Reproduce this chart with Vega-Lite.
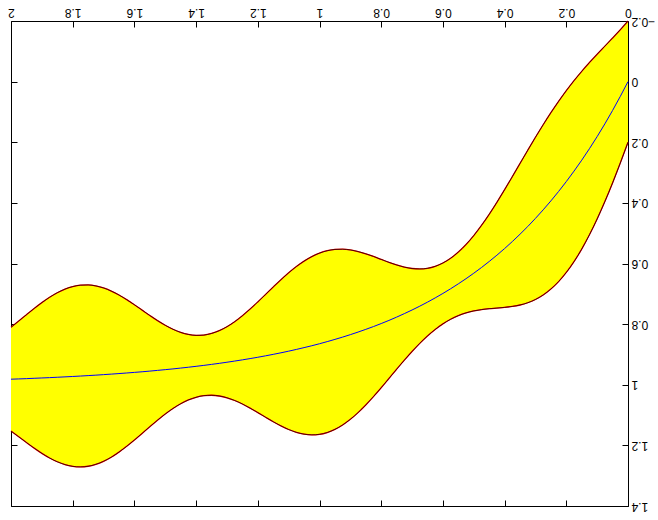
{
  "$schema": "https://vega.github.io/schema/vega-lite/v6.json",
  "width": 617,
  "height": 485,
  "autosize": {"type": "none"},
  "padding": {"left": 11, "top": 21, "right": 30, "bottom": 14},
  "background": "white",
  "config": {
    "view": {"stroke": null},
    "axis": {
      "grid": false,
      "labelFont": "Liberation Sans",
      "labelFontSize": 12,
      "labelColor": "black",
      "tickColor": "black",
      "tickSize": -6,
      "tickWidth": 1,
      "domainColor": "black",
      "domainWidth": 1,
      "labelFlush": false,
      "labelOverlap": false,
      "labelBound": false,
      "title": null
    }
  },
  "data": {"values": [
    {"x": 0, "c": 0, "lo": -0.2, "hi": 0.2},
    {"x": 0.025, "c": 0.0488, "lo": -0.1711, "hi": 0.2686},
    {"x": 0.05, "c": 0.0952, "lo": -0.1438, "hi": 0.3341},
    {"x": 0.075, "c": 0.1393, "lo": -0.1172, "hi": 0.3958},
    {"x": 0.1, "c": 0.1813, "lo": -0.0905, "hi": 0.4530},
    {"x": 0.125, "c": 0.2212, "lo": -0.0629, "hi": 0.5053},
    {"x": 0.15, "c": 0.2592, "lo": -0.0340, "hi": 0.5524},
    {"x": 0.175, "c": 0.2953, "lo": -0.0032, "hi": 0.5939},
    {"x": 0.2, "c": 0.3297, "lo": 0.0297, "hi": 0.6296},
    {"x": 0.225, "c": 0.3624, "lo": 0.0650, "hi": 0.6598},
    {"x": 0.25, "c": 0.3935, "lo": 0.1025, "hi": 0.6844},
    {"x": 0.275, "c": 0.4230, "lo": 0.1422, "hi": 0.7039},
    {"x": 0.3, "c": 0.4512, "lo": 0.1836, "hi": 0.7187},
    {"x": 0.325, "c": 0.4780, "lo": 0.2264, "hi": 0.7295},
    {"x": 0.35, "c": 0.5034, "lo": 0.2699, "hi": 0.7369},
    {"x": 0.375, "c": 0.5276, "lo": 0.3135, "hi": 0.7417},
    {"x": 0.4, "c": 0.5507, "lo": 0.3565, "hi": 0.7448},
    {"x": 0.425, "c": 0.5726, "lo": 0.3981, "hi": 0.7470},
    {"x": 0.45, "c": 0.5934, "lo": 0.4377, "hi": 0.7492},
    {"x": 0.475, "c": 0.6133, "lo": 0.4744, "hi": 0.7521},
    {"x": 0.5, "c": 0.6321, "lo": 0.5078, "hi": 0.7564},
    {"x": 0.525, "c": 0.6501, "lo": 0.5372, "hi": 0.7629},
    {"x": 0.55, "c": 0.6671, "lo": 0.5623, "hi": 0.7720},
    {"x": 0.575, "c": 0.6834, "lo": 0.5827, "hi": 0.7840},
    {"x": 0.6, "c": 0.6988, "lo": 0.5984, "hi": 0.7992},
    {"x": 0.625, "c": 0.7135, "lo": 0.6094, "hi": 0.8176},
    {"x": 0.65, "c": 0.7275, "lo": 0.6158, "hi": 0.8391},
    {"x": 0.675, "c": 0.7408, "lo": 0.6180, "hi": 0.8635},
    {"x": 0.7, "c": 0.7534, "lo": 0.6165, "hi": 0.8903},
    {"x": 0.725, "c": 0.7654, "lo": 0.6119, "hi": 0.9190},
    {"x": 0.75, "c": 0.7769, "lo": 0.6048, "hi": 0.9489},
    {"x": 0.775, "c": 0.7878, "lo": 0.5961, "hi": 0.9794},
    {"x": 0.8, "c": 0.7981, "lo": 0.5865, "hi": 1.0098},
    {"x": 0.825, "c": 0.8080, "lo": 0.5768, "hi": 1.0391},
    {"x": 0.85, "c": 0.8173, "lo": 0.5679, "hi": 1.0667},
    {"x": 0.875, "c": 0.8262, "lo": 0.5605, "hi": 1.0919},
    {"x": 0.9, "c": 0.8347, "lo": 0.5553, "hi": 1.1141},
    {"x": 0.925, "c": 0.8428, "lo": 0.5529, "hi": 1.1326},
    {"x": 0.95, "c": 0.8504, "lo": 0.5536, "hi": 1.1472},
    {"x": 0.975, "c": 0.8577, "lo": 0.5579, "hi": 1.1576},
    {"x": 1.0, "c": 0.8647, "lo": 0.5657, "hi": 1.1636},
    {"x": 1.025, "c": 0.8713, "lo": 0.5772, "hi": 1.1653},
    {"x": 1.05, "c": 0.8775, "lo": 0.5921, "hi": 1.1630},
    {"x": 1.075, "c": 0.8835, "lo": 0.6101, "hi": 1.1570},
    {"x": 1.1, "c": 0.8892, "lo": 0.6307, "hi": 1.1477},
    {"x": 1.125, "c": 0.8946, "lo": 0.6534, "hi": 1.1358},
    {"x": 1.15, "c": 0.8997, "lo": 0.6775, "hi": 1.1220},
    {"x": 1.175, "c": 0.9046, "lo": 0.7022, "hi": 1.1071},
    {"x": 1.2, "c": 0.9093, "lo": 0.7267, "hi": 1.0918},
    {"x": 1.225, "c": 0.9137, "lo": 0.7504, "hi": 1.0771},
    {"x": 1.25, "c": 0.9179, "lo": 0.7723, "hi": 1.0635},
    {"x": 1.275, "c": 0.9219, "lo": 0.7919, "hi": 1.0519},
    {"x": 1.3, "c": 0.9257, "lo": 0.8085, "hi": 1.0429},
    {"x": 1.325, "c": 0.9294, "lo": 0.8216, "hi": 1.0371},
    {"x": 1.35, "c": 0.9328, "lo": 0.8309, "hi": 1.0347},
    {"x": 1.375, "c": 0.9361, "lo": 0.8361, "hi": 1.0361},
    {"x": 1.4, "c": 0.9392, "lo": 0.8371, "hi": 1.0413},
    {"x": 1.425, "c": 0.9422, "lo": 0.8341, "hi": 1.0502},
    {"x": 1.45, "c": 0.9450, "lo": 0.8273, "hi": 1.0627},
    {"x": 1.475, "c": 0.9477, "lo": 0.8170, "hi": 1.0783},
    {"x": 1.5, "c": 0.9502, "lo": 0.8039, "hi": 1.0966},
    {"x": 1.525, "c": 0.9526, "lo": 0.7885, "hi": 1.1168},
    {"x": 1.55, "c": 0.9550, "lo": 0.7715, "hi": 1.1384},
    {"x": 1.575, "c": 0.9572, "lo": 0.7538, "hi": 1.1605},
    {"x": 1.6, "c": 0.9592, "lo": 0.7361, "hi": 1.1824},
    {"x": 1.625, "c": 0.9612, "lo": 0.7192, "hi": 1.2032},
    {"x": 1.65, "c": 0.9631, "lo": 0.7039, "hi": 1.2223},
    {"x": 1.675, "c": 0.9649, "lo": 0.6909, "hi": 1.2390},
    {"x": 1.7, "c": 0.9666, "lo": 0.6807, "hi": 1.2525},
    {"x": 1.725, "c": 0.9683, "lo": 0.6740, "hi": 1.2625},
    {"x": 1.75, "c": 0.9698, "lo": 0.6707, "hi": 1.2689},
    {"x": 1.775, "c": 0.9713, "lo": 0.6715, "hi": 1.2711},
    {"x": 1.8, "c": 0.9727, "lo": 0.6761, "hi": 1.2692},
    {"x": 1.825, "c": 0.9740, "lo": 0.6845, "hi": 1.2635},
    {"x": 1.85, "c": 0.9753, "lo": 0.6964, "hi": 1.2541},
    {"x": 1.875, "c": 0.9765, "lo": 0.7115, "hi": 1.2415},
    {"x": 1.9, "c": 0.9776, "lo": 0.7290, "hi": 1.2263},
    {"x": 1.925, "c": 0.9787, "lo": 0.7484, "hi": 1.2090},
    {"x": 1.95, "c": 0.9798, "lo": 0.7690, "hi": 1.1905},
    {"x": 1.975, "c": 0.9808, "lo": 0.7899, "hi": 1.1716},
    {"x": 2.0, "c": 0.9817, "lo": 0.8105, "hi": 1.1529}
  ]},
  "layer": [
    {
      "mark": {"type": "area", "color": "#ffff00", "interpolate": "monotone"},
      "encoding": {
        "x": {"field": "x", "type": "quantitative", "scale": {"domain": [0, 2], "reverse": true, "nice": false},
              "axis": {"orient": "top", "values": [0, 0.2, 0.4, 0.6, 0.8, 1, 1.2, 1.4, 1.6, 1.8, 2], "format": ".1~f", "labelAngle": 180, "labelPadding": 10}},
        "y": {"field": "lo", "type": "quantitative", "scale": {"domain": [-0.2, 1.4], "reverse": true, "nice": false, "zero": false},
              "axis": {"orient": "right", "values": [-0.2, 0, 0.2, 0.4, 0.6, 0.8, 1, 1.2, 1.4], "format": ".1~f", "labelAngle": 180, "labelPadding": 9}},
        "y2": {"field": "hi"}
      }
    },
    {
      "mark": {"type": "line", "color": "#ff0000", "strokeWidth": 1.3, "interpolate": "monotone"},
      "encoding": {
        "x": {"field": "x", "type": "quantitative", "scale": {"domain": [0, 2], "reverse": true, "nice": false},
              "axis": {"orient": "bottom", "values": [0, 0.2, 0.4, 0.6, 0.8, 1, 1.2, 1.4, 1.6, 1.8, 2], "labels": false}},
        "y": {"field": "lo", "type": "quantitative", "scale": {"domain": [-0.2, 1.4], "reverse": true, "nice": false, "zero": false},
              "axis": {"orient": "left", "values": [-0.2, 0, 0.2, 0.4, 0.6, 0.8, 1, 1.2, 1.4], "labels": false}}
      }
    },
    {
      "mark": {"type": "line", "color": "#ff0000", "strokeWidth": 1.3, "interpolate": "monotone"},
      "encoding": {
        "x": {"field": "x", "type": "quantitative", "scale": {"domain": [0, 2], "reverse": true, "nice": false}, "axis": null},
        "y": {"field": "hi", "type": "quantitative", "scale": {"domain": [-0.2, 1.4], "reverse": true, "nice": false, "zero": false}, "axis": null}
      }
    },
    {
      "mark": {"type": "line", "color": "#000000", "strokeWidth": 0.7, "interpolate": "monotone"},
      "encoding": {
        "x": {"field": "x", "type": "quantitative", "scale": {"domain": [0, 2], "reverse": true, "nice": false}, "axis": null},
        "y": {"field": "lo", "type": "quantitative", "scale": {"domain": [-0.2, 1.4], "reverse": true, "nice": false, "zero": false}, "axis": null}
      }
    },
    {
      "mark": {"type": "line", "color": "#000000", "strokeWidth": 0.7, "interpolate": "monotone"},
      "encoding": {
        "x": {"field": "x", "type": "quantitative", "scale": {"domain": [0, 2], "reverse": true, "nice": false}, "axis": null},
        "y": {"field": "hi", "type": "quantitative", "scale": {"domain": [-0.2, 1.4], "reverse": true, "nice": false, "zero": false}, "axis": null}
      }
    },
    {
      "mark": {"type": "line", "color": "#0000ff", "strokeWidth": 1, "interpolate": "monotone"},
      "encoding": {
        "x": {"field": "x", "type": "quantitative", "scale": {"domain": [0, 2], "reverse": true, "nice": false}, "axis": null},
        "y": {"field": "c", "type": "quantitative", "scale": {"domain": [-0.2, 1.4], "reverse": true, "nice": false, "zero": false}, "axis": null}
      }
    }
  ],
  "resolve": {"axis": {"x": "independent", "y": "independent"}}
}
